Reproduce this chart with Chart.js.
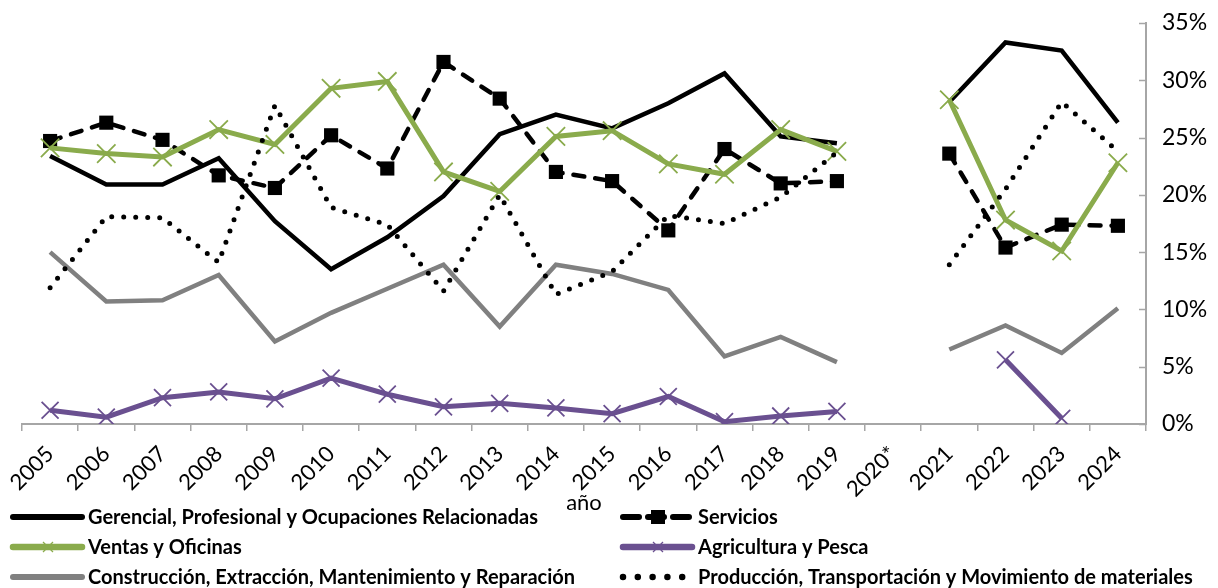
<!DOCTYPE html>
<html><head><meta charset="utf-8">
<script src="https://cdn.jsdelivr.net/npm/chart.js@4/dist/chart.umd.min.js"></script>
<style>html,body{margin:0;padding:0;background:#fff;}</style>
</head><body>
<canvas id="c" width="1218" height="588"></canvas>
<script>
const years = ['2005','2006','2007','2008','2009','2010','2011','2012','2013','2014','2015','2016','2017','2018','2019','2020*','2021','2022','2023','2024'];
const yTicks = [0, 5, 10, 15, 20, 25, 30, 35];
const seriesNames = [
  'Gerencial, Profesional y Ocupaciones Relacionadas',
  'Servicios',
  'Ventas y Oficinas',
  'Agricultura y Pesca',
  'Construcción, Extracción, Mantenimiento y Reparación',
  'Producción, Transportación y Movimiento de materiales'
];
const gerencial    = [23.4, 20.9, 20.9, 23.2, 17.7, 13.5, 16.3, 19.9, 25.3, 27.0, 25.8, 28.0, 30.6, 25.1, 24.5, null, 28.1, 33.3, 32.6, 26.3];
const servicios    = [24.7, 26.3, 24.8, 21.7, 20.6, 25.2, 22.3, 31.6, 28.4, 22.0, 21.2, 16.9, 24.0, 21.0, 21.2, null, 23.6, 15.4, 17.4, 17.3];
const ventas       = [24.1, 23.6, 23.3, 25.7, 24.4, 29.3, 29.9, 22.0, 20.3, 25.1, 25.6, 22.7, 21.8, 25.7, 23.8, null, 28.3, 17.8, 15.1, 22.8];
const agricultura  = [1.2, 0.6, 2.3, 2.8, 2.2, 4.0, 2.6, 1.5, 1.8, 1.4, 0.9, 2.4, 0.2, 0.7, 1.1, null, null, 5.6, 0.5, null];
const construccion = [15.0, 10.7, 10.8, 13.0, 7.2, 9.7, 11.8, 13.9, 8.5, 13.9, 13.1, 11.7, 5.9, 7.6, 5.4, null, 6.5, 8.6, 6.2, 10.1];
const produccion   = [11.9, 18.1, 18.0, 14.1, 27.8, 18.9, 17.4, 11.6, 20.0, 11.3, 13.3, 18.2, 17.5, 19.8, 23.7, null, 13.9, 20.5, 28.1, 23.8];

const GREEN = '#8AAB4C', PURPLE = '#6A5090', GREY = '#808080', AXIS = '#A6A6A6';
const FONT = 'Lato';

const datasets = [
  {label: seriesNames[0], data: gerencial, borderColor: '#000', backgroundColor: '#000', borderWidth: 4.5, pointRadius: 0, marker: null},
  {label: seriesNames[1], data: servicios, borderColor: '#000', backgroundColor: '#000', borderWidth: 4.5, borderDash: [11, 11], borderCapStyle: 'round',
    pointStyle: 'rect', pointRadius: 10, pointBorderWidth: 0, pointBackgroundColor: '#000', marker: 'rect', legendDash: [16, 9]},
  {label: seriesNames[2], data: ventas, borderColor: GREEN, backgroundColor: GREEN, borderWidth: 5, pointStyle: 'crossRot', pointRadius: 13, pointBorderWidth: 1.8, pointBorderColor: GREEN, marker: 'x'},
  {label: seriesNames[3], data: agricultura, borderColor: PURPLE, backgroundColor: PURPLE, borderWidth: 5, pointStyle: 'crossRot', pointRadius: 12, pointBorderWidth: 1.8, pointBorderColor: PURPLE, marker: 'x'},
  {label: seriesNames[4], data: construccion, borderColor: GREY, backgroundColor: GREY, borderWidth: 4.5, pointRadius: 0, marker: null},
  {label: seriesNames[5], data: produccion, borderColor: '#000', backgroundColor: '#000', borderWidth: 5, borderDash: [0, 12], borderCapStyle: 'round', pointRadius: 0, marker: null, legendDash: [0, 14.8]}
];
datasets.forEach((d, i) => { d.order = 6 - i; d.tension = 0; d.spanGaps = false; d.pointHoverRadius = d.pointRadius; d.fill = false; });

const yTickPlugin = {
  id: 'yTickMarks',
  afterDraw(chart) {
    const ctx = chart.ctx, ys = chart.scales.y;
    ctx.save();
    ctx.strokeStyle = AXIS; ctx.lineWidth = 1.5;
    yTicks.forEach(v => {
      const py = Math.round(ys.getPixelForValue(v)) + 0.5;
      ctx.beginPath(); ctx.moveTo(ys.left - 7, py); ctx.lineTo(ys.left, py); ctx.stroke();
    });
    ctx.restore();
  }
};

const legendPlugin = {
  id: 'customLegend',
  afterDraw(chart) {
    const ctx = chart.ctx;
    const cols = [10, 620];
    const rows = [517, 547, 577];
    chart.data.datasets.forEach((ds, i) => {
      const x0 = cols[i % 2], y = rows[Math.floor(i / 2)];
      const len = 72;
      ctx.save();
      ctx.strokeStyle = ds.borderColor;
      ctx.lineWidth = ds.borderWidth + 1.5;
      ctx.lineCap = 'round';
      ctx.setLineDash(ds.legendDash || []);
      ctx.beginPath(); ctx.moveTo(x0 + 3, y); ctx.lineTo(x0 + len, y); ctx.stroke();
      ctx.setLineDash([]);
      const cx = x0 + len / 2 + 2;
      if (ds.marker === 'rect') {
        ctx.fillStyle = ds.borderColor;
        ctx.fillRect(cx - 7, y - 7, 14, 14);
      } else if (ds.marker === 'x') {
        ctx.lineWidth = 1.3; ctx.lineCap = 'butt';
        ctx.beginPath();
        ctx.moveTo(cx - 5, y - 5); ctx.lineTo(cx + 5, y + 5);
        ctx.moveTo(cx - 5, y + 5); ctx.lineTo(cx + 5, y - 5);
        ctx.stroke();
      }
      ctx.fillStyle = '#000';
      ctx.font = 'bold 20px ' + FONT;
      ctx.textBaseline = 'middle';
      ctx.fillText(ds.label, x0 + len + 6, y + 1);
      ctx.restore();
    });
  }
};

new Chart(document.getElementById('c'), {
  type: 'line',
  data: {labels: years, datasets},
  options: {
    responsive: false,
    animation: false,
    events: [],
    layout: {padding: {left: 22, top: 23, right: 0, bottom: 72}},
    plugins: {legend: {display: false}, tooltip: {enabled: false}, title: {display: false}},
    scales: {
      x: {
        offset: true,
        grid: {offset: true, drawOnChartArea: false, drawTicks: true, tickLength: 7, color: AXIS, lineWidth: 1.5},
        border: {display: true, color: AXIS, width: 2},
        ticks: {autoSkip: false, maxRotation: 45, minRotation: 45, color: '#000', font: {family: FONT, size: 22}, padding: 10},
        title: {display: true, text: 'año', color: '#000', font: {family: FONT, size: 22}, padding: {top: 0, bottom: 0}},
        afterFit(s) { s.height = 92; s.paddingLeft = 0; s.paddingRight = 0; }
      },
      y: {
        position: 'right',
        min: 0, max: 35,
        afterBuildTicks(s) { s.ticks = yTicks.map(v => ({value: v})); },
        grid: {display: false, drawTicks: false},
        border: {display: true, color: AXIS, width: 2},
        ticks: {color: '#000', font: {family: FONT, size: 23}, padding: 16, callback: v => v + '%'},
        afterFit(s) { s.width = 72; s.paddingTop = 0; s.paddingBottom = 0; }
      }
    }
  },
  plugins: [yTickPlugin, legendPlugin]
});
</script>
</body></html>
